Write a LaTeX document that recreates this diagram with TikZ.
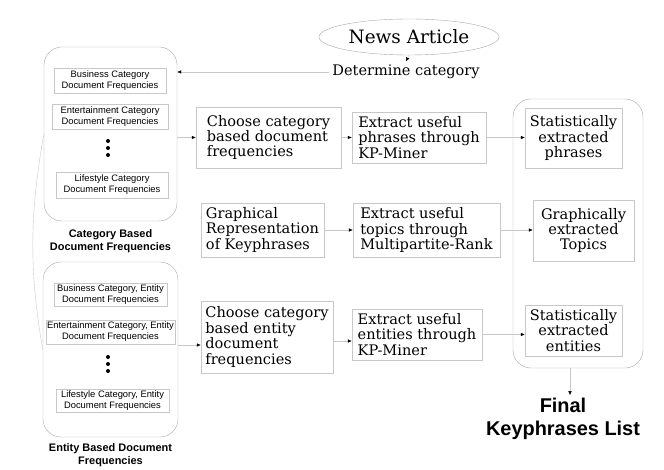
\documentclass[tikz,border=0pt]{standalone}
\usepackage{fontspec}
\setmainfont{DejaVu Serif}
\setsansfont{Liberation Sans}
\usetikzlibrary{arrows.meta,positioning,shapes.geometric,calc}
\definecolor{edgegray}{HTML}{C8C8C8}
\definecolor{framegray}{HTML}{A8A8A8}

\begin{document}
\begin{tikzpicture}[x=1bp, y=-1bp,
  every node/.style={font=\fontsize{14.6}{15.5}\selectfont},
  stage/.style={draw=edgegray, inner xsep=2bp, inner ysep=2bp, align=left},
  result/.style={draw=edgegray, inner xsep=2bp, inner ysep=2bp, align=center},
  store/.style={draw=framegray, rounded corners=18bp},
  dftable/.style={draw=edgegray, font=\sffamily\fontsize{9.4}{11}\selectfont, align=center, inner sep=1bp},
  boxlabel/.style={font=\sffamily\bfseries\fontsize{11}{12.5}\selectfont, align=center},
  link/.style={draw=edgegray, -{Latex[black, length=4bp, width=3.5bp]}}]
  \useasboundingbox (0,0) rectangle (664,470);

  % article and category
  \node[ellipse, draw=framegray, minimum width=170bp, minimum height=36bp, font=\fontsize{18.5}{20}\selectfont] (news) at (409,37) {News Article};
  \node (cat) at (406,72) {Determine category};

  % category based frequencies
  \node[store, minimum width=133bp, minimum height=174bp] (catstore) at (110.5,134) {};
  \node[dftable, minimum width=112bp, minimum height=25bp] (busdf) at (110,80.5) {Business Category\\Document Frequencies};
  \node[dftable, minimum width=116bp, minimum height=25bp] (entdf) at (110,116.5) {Entertainment Category\\Document Frequencies};
  \node[dftable, minimum width=112bp, minimum height=26bp] (lifdf) at (112,185) {Lifestyle Category\\Document Frequencies};
  \foreach \y in {141,148,155} \fill (108,\y) circle (2bp);
  \node[boxlabel, below=5bp of catstore] (catlabel) {Category Based\\Document Frequencies};

  % entity based frequencies
  \node[store, minimum width=135bp, minimum height=175bp] (entstore) at (110.5,349.5) {};
  \node[dftable, minimum width=113bp, minimum height=23bp] (busedf) at (110.5,294.5) {Business Category, Entity\\Document Frequencies};
  \node[dftable, minimum width=127bp, minimum height=24bp] (entedf) at (110.5,332) {Entertainment Category, Entity\\Document Frequencies};
  \node[dftable, minimum width=113bp, minimum height=23bp] (lifedf) at (112.5,400.5) {Lifestyle Category, Entity\\Document Frequencies};
  \foreach \y in {357,364,371} \fill (108,\y) circle (2bp);
  \node[boxlabel, below=3bp of entstore] (entlabel) {Entity Based Document\\Frequencies};

  % processing steps
  \node[stage, minimum width=145bp, minimum height=61bp] (choosedf) at (268.5,137.5) {Choose category\\based document\\frequencies};
  \node[stage, minimum width=134bp, minimum height=51bp] (phrasekp) at (419,137.5) {Extract useful\\phrases through\\KP-Miner};
  \node[stage, minimum width=123bp, minimum height=54bp] (graphrep) at (262.5,230) {Graphical\\Representation\\of Keyphrases};
  \node[stage, minimum width=147bp, minimum height=54bp] (topicmr) at (426.5,230) {Extract useful\\topics through\\Multipartite-Rank};
  \node[stage, minimum width=132bp, minimum height=72bp] (chooseedf) at (267,337) {Choose category\\based entity\\document\\frequencies};
  \node[stage, minimum width=130bp, minimum height=51bp] (entitykp) at (417,334.5) {Extract useful\\entities through\\KP-Miner};

  % results
  \node[store, minimum width=130bp, minimum height=269bp] (outstore) at (578,233.5) {};
  \node[result, minimum width=97bp, minimum height=60bp] (statphr) at (573.5,138) {Statistically\\extracted\\phrases};
  \node[result, minimum width=101bp, minimum height=61bp] (graphtop) at (583.5,230.5) {Graphically\\extracted\\Topics};
  \node[result, minimum width=97bp, minimum height=51bp] (statent) at (573.5,330.5) {Statistically\\extracted\\entities};
  \node[boxlabel, font=\sffamily\bfseries\fontsize{20}{23}\selectfont, inner sep=0pt, below=30bp of outstore, xshift=-15bp] (final) {Final\\Keyphrases List};

  % connectors
  \draw[link] (news.south) -- (cat.north);
  \draw[link] (cat.west) -- (catstore.east |- cat.west);
  \draw[edgegray] (catstore.west) .. controls +(-14,80) and +(-14,-80) .. (entstore.west);
  \draw[link] (catstore.east |- choosedf.west) -- (choosedf.west);
  \draw[link] (choosedf.east) -- (phrasekp.west);
  \draw[link] (phrasekp.east) -- (phrasekp.east -| statphr.west);
  \draw[link] (graphrep.east) -- (topicmr.west);
  \draw[link] (topicmr.east) -- (topicmr.east -| graphtop.west);
  \draw[link] ([yshift=-8bp]chooseedf.west -| entstore.east) -- ([yshift=-8bp]chooseedf.west);
  \draw[link] ([yshift=-4bp]chooseedf.east) -- ([yshift=-4bp]chooseedf.east -| entitykp.west);
  \draw[link] (entitykp.east) -- (entitykp.east -| statent.west);
  \draw[link] ([xshift=-8bp]outstore.south) -- ([xshift=7bp, yshift=3bp]final.north);
\end{tikzpicture}
\end{document}
